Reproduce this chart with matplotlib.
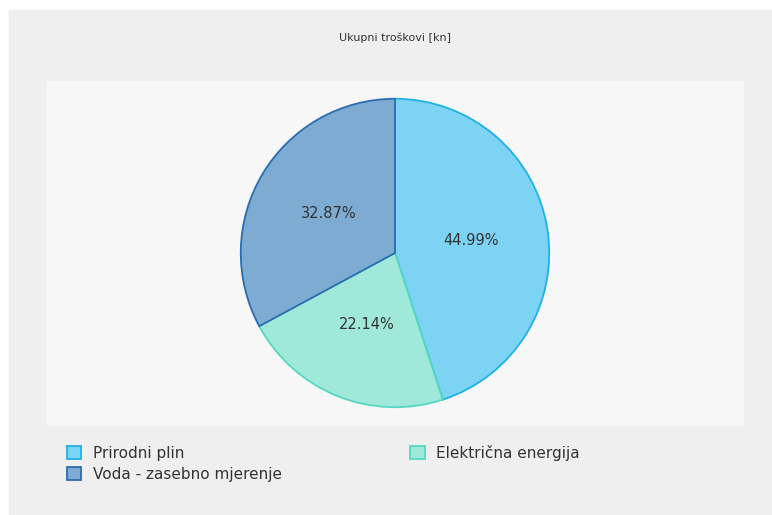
import matplotlib.pyplot as plt
import numpy as np
from matplotlib.patches import Rectangle, Patch

# data
labels = ['Prirodni plin', 'Električna energija', 'Voda - zasebno mjerenje']
shares = [44.99, 22.14, 32.87]
fills = ['#7dd3f3', '#a0e8da', '#7eabd2']
edges = ['#1fb1e6', '#55d8c1', '#2a6db0']
title = 'Ukupni troškovi [kn]'

W, H = 772, 515
fig = plt.figure(figsize=(W / 100, H / 100), dpi=100)
fig.patch.set_facecolor('white')

# outer grey panel and inner light plot panel
fig.patches.append(Rectangle((9 / W, 0 / H), (W - 9) / W, (H - 10) / H,
                             transform=fig.transFigure, color='#efefef', zorder=-2))
fig.patches.append(Rectangle((47 / W, (H - 425) / H), (743 - 47) / W, (425 - 81) / H,
                             transform=fig.transFigure, color='#f7f7f7', zorder=-1))

fig.text(395 / W, 1 - 38 / H, title, ha='center', va='center', fontsize=8, color='#333333')

cx, cy, r = 395, 253, 155
ax = fig.add_axes([(cx - r) / W, (H - cy - r) / H, 2 * r / W, 2 * r / H])
ax.set_facecolor('none')
wedges, _ = ax.pie(shares, colors=fills, startangle=90, counterclock=False,
                   wedgeprops=dict(linewidth=1.3))
for w, ec in zip(wedges, edges):
    w.set_edgecolor(ec)
for w, s in zip(wedges, shares):
    mid = np.deg2rad((w.theta1 + w.theta2) / 2)
    ax.text(0.5 * np.cos(mid), 0.5 * np.sin(mid), f'{s:.2f}%', ha='center', va='center',
            fontsize=10.5, color='#333333')
ax.set_xlim(-1.005, 1.005)
ax.set_ylim(-1.005, 1.005)
ax.set_aspect('equal')
ax.axis('off')

order = [0, 2, 1]
handles = [Patch(facecolor=fills[i], edgecolor=edges[i], linewidth=1.3) for i in order]
fig.legend(handles, [labels[i] for i in order], ncol=2, frameon=False,
           loc='upper left', bbox_to_anchor=(53 / W, 1 - 431 / H),
           fontsize=11, columnspacing=8.4, handlelength=0.95, handleheight=0.95,
           handletextpad=0.75, labelspacing=0.4, labelcolor='#333333')

fig.savefig('out.png', dpi=100)
